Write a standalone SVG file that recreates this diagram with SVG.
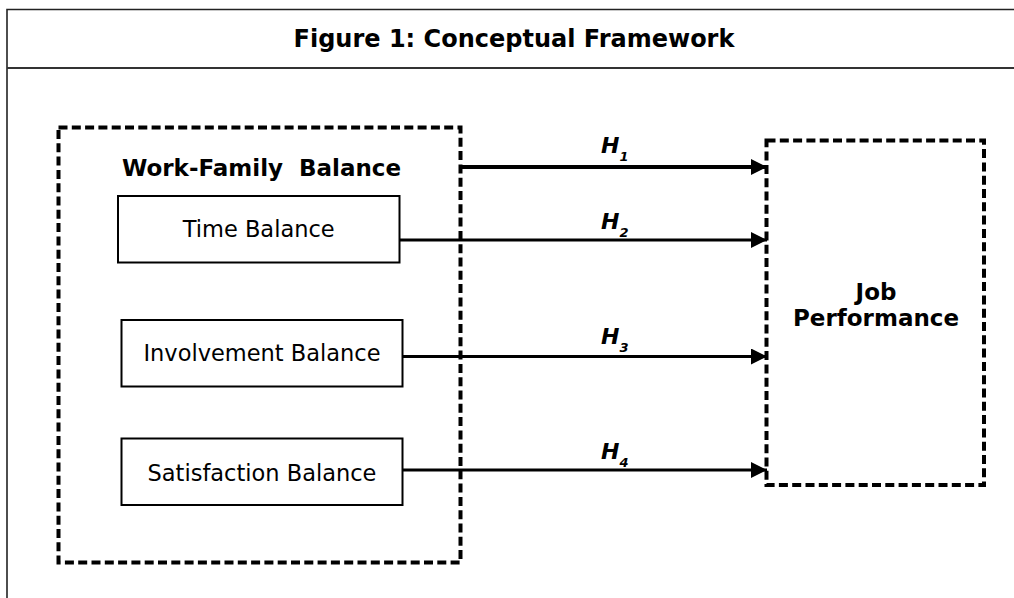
<svg xmlns="http://www.w3.org/2000/svg" width="1014" height="598" viewBox="0 0 1014 598">
<style>
.frame{fill:none;stroke:#222;stroke-width:1.6}
.div{stroke:#333;stroke-width:2.2}
.dash{fill:none;stroke:#000;stroke-width:4;stroke-dasharray:9 4.3}
.box{fill:#fff;stroke:#000;stroke-width:2}
.reg{font-family:"DejaVu Sans",Verdana,sans-serif;font-size:22.5px;fill:#000;text-anchor:middle}
.bold{font-family:"DejaVu Sans",Verdana,sans-serif;font-weight:bold;fill:#000;text-anchor:middle}
.h{font-family:"DejaVu Sans",Verdana,sans-serif;font-weight:bold;font-style:italic;font-size:22px;fill:#000}
.sub{font-size:13px}
.arr{stroke:#000;stroke-width:3;fill:none;marker-end:url(#ah)}
</style>
<defs>
<marker id="ah" markerUnits="userSpaceOnUse" markerWidth="16" markerHeight="18" refX="16" refY="8" orient="auto">
<path d="M0,0 L16,8 L0,16 Z" fill="#000"/>
</marker>
</defs>
<rect width="1014" height="598" fill="#fff"/>
<g id="frame">
<path class="frame" d="M7,598 V9.5 H1014"/>
<line class="div" x1="7" y1="68" x2="1014" y2="68"/>
<text class="bold" x="514" y="47" font-size="24">Figure 1: Conceptual Framework</text>
</g>
<g id="work-family-balance">
<rect class="dash" x="58.5" y="127.5" width="402" height="435"/>
<text class="bold" x="261.5" y="176" font-size="23" word-spacing="8">Work-Family Balance</text>
</g>
<g id="time-balance">
<rect class="box" x="118" y="196" width="281.5" height="66.5"/>
<text class="reg" x="258.7" y="236.5">Time Balance</text>
</g>
<g id="involvement-balance">
<rect class="box" x="121.5" y="320" width="281" height="66.5"/>
<text class="reg" x="262" y="360.5">Involvement Balance</text>
</g>
<g id="satisfaction-balance">
<rect class="box" x="121.5" y="438.5" width="281" height="66.5"/>
<text class="reg" x="262" y="481">Satisfaction Balance</text>
</g>
<g id="job-performance">
<rect class="dash" x="766.5" y="140.5" width="217.5" height="344.5"/>
<text class="bold" x="876" y="300" font-size="23">Job</text>
<text class="bold" x="876" y="326" font-size="23">Performance</text>
</g>
<g id="connectors">
<line class="arr" x1="461" y1="167" x2="767" y2="167" style="stroke-width:4"/>
<line class="arr" x1="399.5" y1="240" x2="767" y2="240"/>
<line class="arr" x1="402.5" y1="356.5" x2="767" y2="356.5"/>
<line class="arr" x1="402.5" y1="470" x2="767" y2="470"/>
<text class="h" x="601" y="153">H<tspan class="sub" dy="8">1</tspan></text>
<text class="h" x="601" y="229">H<tspan class="sub" dy="8">2</tspan></text>
<text class="h" x="601" y="344">H<tspan class="sub" dy="8">3</tspan></text>
<text class="h" x="601" y="459">H<tspan class="sub" dy="8">4</tspan></text>
</g>
</svg>
